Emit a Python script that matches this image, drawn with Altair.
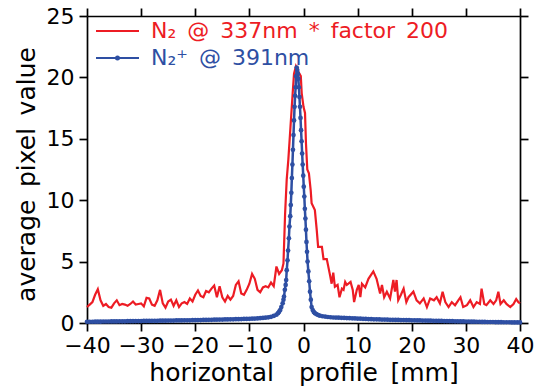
import altair as alt
import pandas as pd

RED = "#ED1C24"
BLUE = "#2E4FA3"
FONT = "DejaVu Sans"

red_name = "N₂\u2002@\u2002337nm\u2002*\u2002factor\u2002200"
blue_name = "N₂⁺\u2002@\u2002391nm"

# N2 emission at 337 nm (scaled by 200)
red_x = [-40.0, -39.5, -39.0, -38.5, -38.0, -37.5, -37.0, -36.5, -36.0, -35.5,
         -35.0, -34.5, -34.0, -33.5, -33.0, -32.5, -32.0, -31.5, -31.0, -30.5,
         -30.0, -29.5, -29.0, -28.5, -28.0, -27.5, -27.0, -26.5, -26.0, -25.5,
         -25.0, -24.5, -24.0, -23.5, -23.0, -22.5, -22.0, -21.5, -21.0, -20.5,
         -20.0, -19.5, -19.0, -18.5, -18.0, -17.5, -17.0, -16.5, -16.0, -15.5,
         -15.0, -14.5, -14.0, -13.5, -13.0, -12.5, -12.0, -11.5, -11.0, -10.5,
         -10.0, -9.5, -9.0, -8.5, -8.0, -7.5, -7.0, -6.5, -6.0, -5.5,
         -5.0, -4.5, -4.0, -3.7, -3.4, -3.1, -2.8, -2.4, -2.0, -1.75,
         -1.4, -1.0, -0.5, -0.33, 0.0, 0.28, 0.46, 0.7, 1.0, 1.33,
         1.5, 2.1, 2.44, 2.7, 3.08, 3.4, 3.7, 4.3, 4.9, 5.2,
         5.5, 5.8, 6.3, 6.65, 7.1, 7.4, 7.7, 8.0, 8.3, 8.7,
         9.1, 9.35, 9.85, 10.2, 10.5, 10.8, 11.4, 12.0, 12.9, 13.5,
         14.15, 14.5, 14.9, 15.4, 16.0, 16.6, 16.9, 17.2, 17.5, 18.0,
         18.5, 19.0, 19.4, 20.3, 20.9, 21.5, 22.2, 22.8, 23.4, 24.1,
         24.6, 25.2, 25.7, 26.2, 26.8, 27.4, 28.0, 28.6, 29.0, 29.5,
         30.2, 30.8, 31.4, 32.0, 32.6, 32.9, 33.4, 33.8, 34.5, 35.1,
         35.6, 36.0, 36.4, 37.0, 37.5, 38.2, 38.8, 39.3, 39.7, 40.0]
red_v = [1.3, 1.5, 1.7, 2.3, 2.75, 1.85, 1.4, 1.55, 1.3, 1.25,
         1.6, 1.85, 1.45, 1.55, 1.5, 1.4, 1.55, 1.75, 1.5, 1.55,
         1.6, 1.35, 2.05, 2.0, 1.5, 1.4, 1.85, 2.7, 1.6, 1.25,
         1.75, 1.9, 1.4, 1.85, 1.3, 1.6, 1.7, 1.55, 2.0, 1.75,
         2.3, 2.65, 2.2, 2.1, 2.6, 2.5, 2.8, 3.05, 2.1, 3.0,
         2.1, 1.75, 2.2, 1.9, 2.2, 3.1, 3.4, 2.4, 2.3, 2.7,
         3.2, 4.0, 3.6, 2.7, 2.5, 2.9, 3.0, 2.9, 3.3, 3.0,
         4.6, 4.0, 4.3, 4.85, 8.9, 11.7, 13.3, 16.0, 18.7, 20.3,
         20.9, 20.5, 20.1, 18.7, 17.6, 17.1, 14.6, 12.5, 12.2, 10.8,
         9.75, 9.2, 7.6, 6.2, 6.2, 6.2, 5.2, 5.2, 3.9, 3.2,
         4.1, 2.95, 3.1, 2.1, 2.8, 2.7, 3.35, 3.1, 3.2, 3.35,
         2.7, 1.7, 2.7, 3.1, 2.1, 3.2, 2.9, 3.6, 4.2, 3.6,
         2.4, 3.1, 2.1, 2.55, 2.0, 3.5, 2.55, 3.5, 1.85, 2.3,
         2.8, 1.7, 2.1, 2.55, 1.85, 1.6, 2.0, 1.3, 2.0, 1.85,
         2.1, 1.6, 2.55, 1.7, 1.3, 1.7, 1.45, 1.85, 2.1, 1.3,
         1.45, 1.85, 1.3, 1.7, 1.55, 2.8, 1.55, 1.45, 1.85, 1.55,
         1.85, 2.55, 1.55, 1.85, 1.55, 1.3, 1.55, 1.95, 1.7, 1.6]

# N2+ emission at 391 nm
blue_x = [-40.0, -39.5, -39.0, -38.5, -38.0, -37.5, -37.0, -36.5, -36.0, -35.5,
          -35.0, -34.5, -34.0, -33.5, -33.0, -32.5, -32.0, -31.5, -31.0, -30.5,
          -30.0, -29.5, -29.0, -28.5, -28.0, -27.5, -27.0, -26.5, -26.0, -25.5,
          -25.0, -24.5, -24.0, -23.5, -23.0, -22.5, -22.0, -21.5, -21.0, -20.5,
          -20.0, -19.5, -19.0, -18.5, -18.0, -17.5, -17.0, -16.5, -16.0, -15.5,
          -15.0, -14.5, -14.0, -13.5, -13.0, -12.5, -12.0, -11.5, -11.0, -10.5,
          -10.0, -9.5, -9.0, -8.5, -8.0, -7.5, -7.0, -6.5, -6.0, -5.5,
          -5.0, -4.7, -4.5, -4.3, -4.1, -3.85, -3.7, -3.6, -3.45, -3.3,
          -3.2, -3.1, -2.95, -2.85, -2.7, -2.6, -2.45, -2.35, -2.25, -2.15,
          -2.05, -1.95, -1.85, -1.75, -1.65, -1.55, -1.45, -1.35, -1.25, -1.15,
          -1.05, -0.95, -0.85, -0.75, -0.65, -0.55, -0.45, -0.35, -0.25, -0.15,
          -0.05, 0.05, 0.15, 0.25, 0.35, 0.45, 0.55, 0.65, 0.75, 0.9,
          1.05, 1.2, 1.35, 1.5, 1.7, 1.9, 2.1, 2.4, 2.7, 3.0,
          3.5, 4.0, 4.5, 5.0, 5.5, 6.0, 6.5, 7.0, 7.5, 8.0,
          8.5, 9.0, 9.5, 10.0, 10.5, 11.0, 11.5, 12.0, 12.5, 13.0,
          13.5, 14.0, 14.5, 15.0, 15.5, 16.0, 16.5, 17.0, 17.5, 18.0,
          18.5, 19.0, 19.5, 20.0, 20.5, 21.0, 21.5, 22.0, 22.5, 23.0,
          23.5, 24.0, 24.5, 25.0, 25.5, 26.0, 26.5, 27.0, 27.5, 28.0,
          28.5, 29.0, 29.5, 30.0, 30.5, 31.0, 31.5, 32.0, 32.5, 33.0,
          33.5, 34.0, 34.5, 35.0, 35.5, 36.0, 36.5, 37.0, 37.5, 38.0,
          38.5, 39.0, 39.5, 40.0]
blue_v = [0.10, 0.10, 0.10, 0.11, 0.11, 0.11, 0.12, 0.12, 0.12, 0.13,
          0.13, 0.13, 0.14, 0.14, 0.14, 0.15, 0.15, 0.15, 0.16, 0.16,
          0.16, 0.17, 0.17, 0.17, 0.18, 0.18, 0.18, 0.19, 0.19, 0.19,
          0.20, 0.20, 0.20, 0.21, 0.21, 0.21, 0.22, 0.22, 0.22, 0.23,
          0.23, 0.24, 0.24, 0.25, 0.25, 0.26, 0.26, 0.27, 0.27, 0.28,
          0.28, 0.29, 0.29, 0.30, 0.30, 0.31, 0.31, 0.32, 0.33, 0.33,
          0.34, 0.35, 0.36, 0.37, 0.39, 0.41, 0.43, 0.46, 0.50, 0.58,
          0.68, 0.80, 0.92, 1.06, 1.3, 1.6, 1.9, 2.15, 2.7, 3.1,
          3.5, 4.3, 5.1, 5.9, 6.9, 7.85, 8.7, 9.6, 10.6, 11.8,
          12.9, 14.1, 15.3, 16.5, 17.6, 18.5, 19.2, 20.1, 20.8, 20.6,
          20.3, 19.9, 19.2, 18.4, 17.6, 16.7, 15.7, 14.8, 13.8, 12.9,
          12.0, 11.1, 10.3, 9.3, 8.5, 7.6, 6.6, 5.8, 5.0, 4.2,
          3.4, 2.55, 1.9, 1.3, 1.05, 0.9, 0.8, 0.72, 0.65, 0.6,
          0.55, 0.52, 0.49, 0.47, 0.45, 0.44, 0.43, 0.42, 0.41, 0.40,
          0.39, 0.38, 0.37, 0.36, 0.35, 0.34, 0.33, 0.32, 0.31, 0.30,
          0.30, 0.29, 0.28, 0.28, 0.27, 0.26, 0.26, 0.25, 0.25, 0.24,
          0.24, 0.23, 0.23, 0.22, 0.22, 0.21, 0.21, 0.20, 0.20, 0.19,
          0.19, 0.18, 0.18, 0.17, 0.17, 0.16, 0.16, 0.15, 0.15, 0.14,
          0.14, 0.13, 0.13, 0.12, 0.12, 0.11, 0.11, 0.10, 0.10, 0.09,
          0.09, 0.08, 0.08, 0.08, 0.07, 0.07, 0.07, 0.06, 0.06, 0.06,
          0.05, 0.05, 0.05, 0.05]

x_ticks = [-40, -30, -20, -10, 0, 10, 20, 30, 40]
y_ticks = [0, 5, 10, 15, 20, 25]

red_df = pd.DataFrame({"pos": red_x, "val": red_v, "series": red_name})
blue_df = pd.DataFrame({"pos": blue_x, "val": blue_v, "series": blue_name})

x_scale = alt.Scale(domain=[-40, 40], nice=False, zero=False)
y_scale = alt.Scale(domain=[0, 25], nice=False)

bottom_axis = alt.Axis(values=x_ticks, title="horizontal\u2003profile\u2002[mm]",
                       labelPadding=4, titleBaseline="alphabetic", titleY=57,
                       titleFontSize=25)
left_axis = alt.Axis(values=y_ticks, title="average\u2002pixel\u2002value",
                     labelPadding=5, titleBaseline="alphabetic", titleX=-53,
                     titleY=158, titleAngle=270, titleFontSize=25)
top_axis = alt.Axis(orient="top", values=x_ticks, labels=False, title=None)
right_axis = alt.Axis(orient="right", values=y_ticks, labels=False, title=None)

legend_common = dict(orient="none", title=None, padding=0, labelFont=FONT,
                     labelFontSize=22, symbolSize=1849, symbolStrokeWidth=2,
                     labelOffset=11, labelLimit=0)

red_line = alt.Chart(red_df).mark_line(strokeWidth=2.2).encode(
    x=alt.X("pos:Q", scale=x_scale, axis=bottom_axis),
    y=alt.Y("val:Q", scale=y_scale, axis=left_axis),
    color=alt.Color("series:N",
                    scale=alt.Scale(domain=[red_name], range=[RED]),
                    legend=alt.Legend(legendX=8, legendY=-7.5, labelColor=RED,
                                      symbolType="stroke", **legend_common)),
)

blue_line = alt.Chart(blue_df).mark_line(strokeWidth=2.5).encode(
    x=alt.X("pos:Q", scale=x_scale, axis=top_axis),
    y=alt.Y("val:Q", scale=y_scale, axis=right_axis),
    color=alt.Color("series:N",
                    scale=alt.Scale(domain=[blue_name], range=[BLUE]),
                    legend=alt.Legend(
                        legendX=8, legendY=19.5, labelColor=BLUE,
                        symbolType="M-1,0H1M0.07,0A0.07,0.07 0 1,1 -0.07,0A0.07,0.07 0 1,1 0.07,0Z",
                        symbolFillColor=BLUE, **legend_common)),
)

blue_pts = alt.Chart(blue_df).mark_circle(size=22, color=BLUE, opacity=1).encode(
    x=alt.X("pos:Q", scale=x_scale, axis=None),
    y=alt.Y("val:Q", scale=y_scale, axis=None),
)

chart = (
    alt.layer(red_line, blue_line, blue_pts)
    .resolve_scale(color="independent")
    .resolve_axis(x="independent", y="independent")
    .properties(
        width=433, height=307,
        padding={"left": 87, "top": 16, "right": 21, "bottom": 63},
        autosize=alt.AutoSizeParams(type="none"),
        background="white",
    )
    .configure_view(stroke=None)
    .configure_axis(
        grid=False,
        domainColor="black", domainWidth=1.7,
        tickColor="black", tickWidth=1.7, tickSize=8,
        labelFont=FONT, labelFontSize=22, labelColor="black",
        labelFlush=False, labelOverlap=False,
        titleFont=FONT, titleFontSize=24, titleFontWeight="normal",
        titleColor="black",
    )
)

chart.save("out.html", embed_options={"renderer": "svg", "actions": False})
